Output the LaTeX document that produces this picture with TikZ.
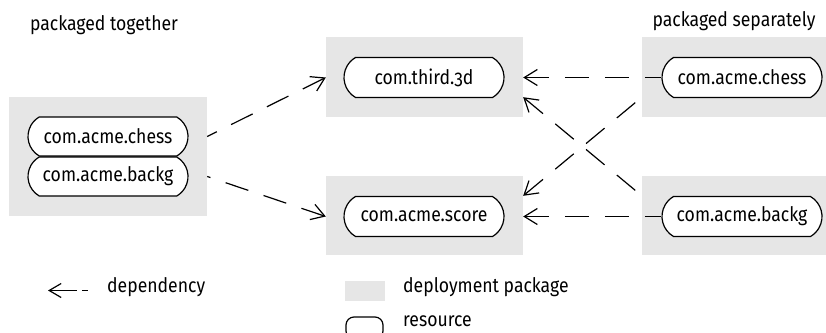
\documentclass[tikz,border=0pt]{standalone}
\usepackage{fontspec}
\setmainfont[Numbers=OldStyle,FakeStretch=0.88]{Fira Sans}
\usetikzlibrary{arrows.meta,shapes.misc,calc}
\definecolor{pkggrey}{HTML}{E6E6E6}
\tikzset{
  pkg/.style={fill=pkggrey, draw=none, inner sep=0pt, minimum width=#1, rectangle},
  res/.style={draw=black, line width=1.2pt, fill=white, rounded rectangle, rounded rectangle arc length=120,
    minimum width=160pt, minimum height=40pt, inner sep=0pt, font=\fontsize{20}{24}\selectfont},
  dep/.style={draw=black, line width=1.2pt, dash pattern=on 24pt off 16pt,
    {Straight Barb[length=13pt,width=16pt,line width=1.2pt]}-},
  legdep/.style={draw=black, line width=1.2pt, dash pattern=on 27pt off 5pt,
    {Straight Barb[length=12pt,width=14pt,line width=1.2pt]}-},
  lbl/.style={inner sep=0pt, font=\fontsize{20}{24}\selectfont}
}
\begin{document}
\begin{tikzpicture}[x=1pt,y=-1pt]
\useasboundingbox (0,0) rectangle (826,332);
% packages
\node[pkg=198pt, minimum height=119pt] (boxL) at (108,156.5) {};
\node[pkg=197pt, minimum height=80pt] (boxT) at (424.5,77) {};
\node[pkg=197pt, minimum height=79pt] (boxS) at (424.5,215.5) {};
\node[pkg=199pt, minimum height=80pt] (boxRC) at (741.5,77) {};
\node[pkg=199pt, minimum height=79pt] (boxRB) at (741.5,215.5) {};
% resources
\node[res, minimum height=39pt] (lchess) at (108,136.5) {com.acme.chess};
\node[res, minimum height=39pt] (lbackg) at (108,176.5) {com.acme.backg};
\node[res] (third) at (424,77.5) {com.third.3d};
\node[res] (score) at (424,216.5) {com.acme.score};
\node[res] (rchess) at (742,77.5) {com.acme.chess};
\node[res] (rbackg) at (742,216.5) {com.acme.backg};
% titles
\node[lbl] (t1) at (104,25) {packaged together};
\node[lbl] (t2) at (734,21) {packaged separately};
% dependencies
\draw[dep] (boxT.west |- third.center) -- (boxL.east |- lchess.center);
\draw[dep] (boxS.west |- score.center) -- (boxL.east |- lbackg.center);
\draw[dep] (boxT.east |- third.center) -- (rchess.west);
\draw[dep] (boxS.east |- score.center) -- (rbackg.west);
\coordinate (c1) at ($(boxRC.south west)+(0,-20)$);
\coordinate (c2) at ($(boxS.north east)+(0,20)$);
\coordinate (c3) at ($(boxRB.north west)+(0,20)$);
\coordinate (c4) at ($(boxT.south east)+(0,-20)$);
\draw[dep] (c2) -- (c1);
\draw[dep] (c4) -- (c3);
% legend
\coordinate (la) at (48,290.5);
\coordinate (lb) at (88,290.5);
\draw[legdep] (la) -- (lb);
\node[lbl, anchor=west] (ldep) at (107,287) {dependency};
\node[pkg=40pt, minimum height=20pt] (lpkg) at (365,291) {};
\node[lbl, anchor=west] (lpkgt) at (403,287) {deployment package};
\node[draw=black, line width=1.2pt, rounded corners=8pt, minimum width=37pt, minimum height=22pt, inner sep=0pt] (lres) at (364.5,328) {};
\node[lbl, anchor=west] (lrest) at (403,321) {resource};
\end{tikzpicture}
\end{document}
